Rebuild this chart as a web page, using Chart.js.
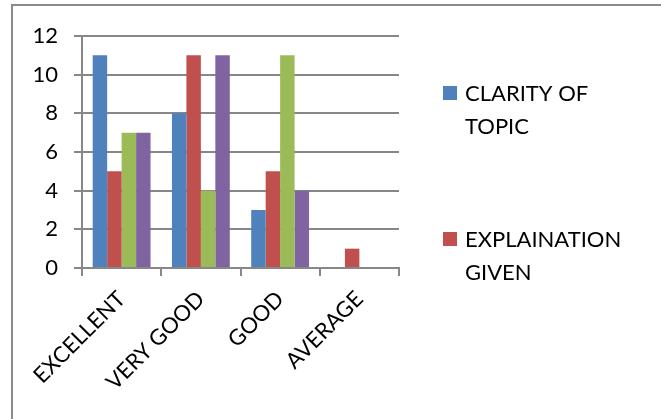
<!DOCTYPE html>
<html>
<head>
<meta charset="utf-8">
<script src="https://cdn.jsdelivr.net/npm/chart.js@4"></script>
<style>
  html, body { margin: 0; padding: 0; background: #fff; }
  #wrap { position: relative; width: 661px; height: 419px; overflow: hidden; }
  #frame {
    position: absolute; left: 11px; top: 4px; width: 700px; height: 500px;
    border-left: 2px solid #8a8a8a; border-top: 2px solid #8a8a8a;
  }
  canvas { position: absolute; left: 0; top: 0; }
</style>
</head>
<body>
<div id="wrap">
  <div id="frame"></div>
  <canvas id="chart" width="661" height="419"></canvas>
</div>
<script>
  // Survey ratings, one series per feedback question.
  const CATEGORIES = ["EXCELLENT", "VERY GOOD", "GOOD", "AVERAGE"];
  const SERIES_NAMES = ["CLARITY OF TOPIC", "EXPLAINATION GIVEN", "SERIES 3", "SERIES 4"];
  const CLARITY     = [11, 8, 3, 0];
  const EXPLAINED   = [5, 11, 5, 1];
  const SERIES3     = [7, 4, 11, 0];
  const SERIES4     = [7, 11, 4, 0];
  const Y_TICKS     = [0, 2, 4, 6, 8, 10, 12];

  const COLORS = ["#4f81bd", "#c0504d", "#9bbb59", "#8064a2"];
  const GRID = "#878787";
  const FONT = { family: "Lato, 'Liberation Sans', sans-serif", size: 22 };

  // Only the first two legend entries fit in the original picture.
  const LEGEND_SHOWN = 2;

  const legendPlugin = {
    id: "wrappedLegend",
    afterDraw(chart) {
      const ctx = chart.ctx;
      ctx.save();
      ctx.font = `${FONT.size}px ${FONT.family}`;
      ctx.fillStyle = "#000";
      ctx.textBaseline = "alphabetic";
      const x0 = 443, textX = 465, maxW = 172, lineH = 33;
      let y = 101;
      chart.data.datasets.slice(0, LEGEND_SHOWN).forEach((ds) => {
        // word wrap the label
        const words = ds.label.split(" ");
        const lines = [];
        let cur = "";
        words.forEach((w) => {
          const test = cur ? cur + " " + w : w;
          if (ctx.measureText(test).width > maxW && cur) {
            lines.push(cur);
            cur = w;
          } else cur = test;
        });
        if (cur) lines.push(cur);

        ctx.fillStyle = ds.backgroundColor;
        ctx.fillRect(x0, y - 15, 14, 14);
        ctx.fillStyle = "#000";
        lines.forEach((ln, i) => ctx.fillText(ln, textX, y + i * lineH));
        y += 146;
      });
      ctx.restore();
    },
  };

  const seriesData = [CLARITY, EXPLAINED, SERIES3, SERIES4];

  new Chart(document.getElementById("chart"), {
    type: "bar",
    data: {
      labels: CATEGORIES,
      datasets: seriesData.map((d, i) => ({
        label: SERIES_NAMES[i],
        data: d,
        backgroundColor: COLORS[i],
        borderWidth: 0,
        categoryPercentage: 0.73,
        barPercentage: 1,
      })),
    },
    options: {
      responsive: false,
      animation: false,
      layout: { padding: { left: 0, top: 36, right: 262, bottom: 0 } },
      plugins: { legend: { display: false }, tooltip: { enabled: false } },
      scales: {
        x: {
          grid: { offset: true, drawOnChartArea: false, drawTicks: true, tickLength: 8, color: GRID, lineWidth: 2 },
          border: { display: true, color: GRID, width: 2 },
          ticks: { color: "#000", font: FONT, minRotation: 45, maxRotation: 45, padding: 10 },
          afterFit(scale) { scale.height = 151; },
        },
        y: {
          min: 0,
          max: 12,
          afterBuildTicks(scale) { scale.ticks = Y_TICKS.map((v) => ({ value: v })); },
          grid: { color: GRID, lineWidth: 2, tickLength: 8 },
          border: { display: true, color: GRID, width: 2 },
          ticks: { color: "#000", font: FONT, padding: 16 },
          afterFit(scale) { scale.width = 82; },
        },
      },
    },
    plugins: [legendPlugin],
  });
</script>
</body>
</html>
